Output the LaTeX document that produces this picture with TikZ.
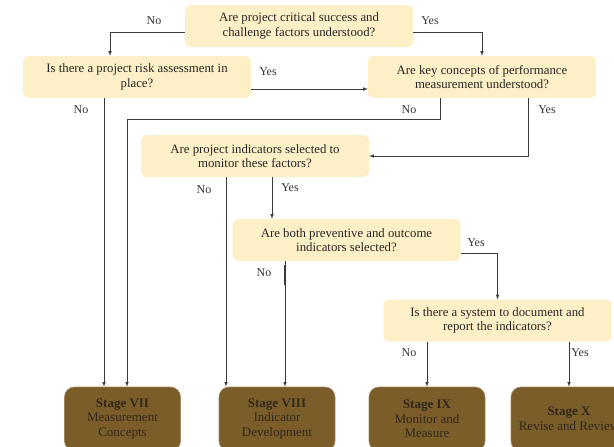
\documentclass[tikz,border=0pt]{standalone}
\usepackage{fontspec}
\setmainfont{Liberation Serif}
\usepackage{tikz}
\usetikzlibrary{arrows}
\definecolor{qfill}{HTML}{FDEFC6}
\definecolor{stagefill}{HTML}{7A5D29}
\definecolor{stageedge}{HTML}{A08A5C}
\definecolor{stagetext}{HTML}{33271A}
\definecolor{linecol}{HTML}{3A3A3A}

\begin{document}
\begin{tikzpicture}[x=1pt,y=-1pt,
			question/.style={rectangle,rounded corners=6pt,fill=qfill,
				minimum width=228pt,minimum height=42pt,align=center,text=black!85,
				font=\fontsize{12.8}{14.5}\selectfont,inner sep=2pt},
			stage node/.style={rectangle,rounded corners=10pt,fill=stagefill,
				draw=stageedge,line width=0.6pt,minimum width=116pt,minimum height=64pt,
				align=center,text=stagetext,font=\fontsize{13}{14.5}\selectfont},
			answer/.style={font=\fontsize{12}{13}\selectfont,text=black!80,inner sep=1pt},
			arr/.style={-latex,draw=linecol,line width=0.6pt}]
			
			\useasboundingbox (0,0) rectangle (614,447);
			
			\node[question] (top) at (299,26) {Are project critical success and\\challenge factors understood?};
			\node[question] (risk) at (137,77) {Is there a project risk assessment in\\place?};
			\node[question] (key) at (482,77) {Are key concepts of performance\\measurement understood?};
			\node[question] (ind) at (255,156) {Are project indicators selected to\\monitor these factors?};
			\node[question] (prev) at (346.5,240) {Are both preventive and outcome\\indicators selected?};
			\node[question] (sys) at (497.5,320.5) {Is there a system to document and\\report the indicators?};
			
			\node[stage node] (s7) at (122.5,419) {\textbf{Stage VII}\\Measurement\\Concepts};
			\node[stage node] (s8) at (277,419) {\textbf{Stage VIII}\\Indicator\\Development};
			\node[stage node] (s9) at (427,419) {\textbf{Stage IX}\\Monitor and\\Measure};
			\node[stage node] (s10) at (569,419) {\textbf{Stage X}\\Revise and Review};
			
			\coordinate (k1) at (127,119);
			
			\draw[arr] ([yshift=-6pt]top.west) -| ([xshift=-27pt]risk.north);
			\draw[arr] ([yshift=-6pt]top.east) -| (key.north);
			\draw[arr] ([yshift=-12pt]risk.east) -- ([yshift=-12pt]key.west);
			\draw[arr] ([xshift=-33pt]risk.south) -- ([xshift=-33pt]risk.south |- s7.north);
			\draw[arr] ([xshift=-42pt]key.south) |- (k1) -- (k1 |- s7.north);
			\draw[arr] ([xshift=46.5pt]key.south) |- (ind.east);
			\draw[arr] ([xshift=-29pt]ind.south) -- ([xshift=-29pt]ind.south |- s8.north);
			\draw[arr] ([xshift=17pt]ind.south) -- ([xshift=17pt]ind.south |- prev.north);
			\draw[arr] ([yshift=-13pt]prev.east) -| (sys.north);
			\draw[arr] ([xshift=-61.5pt]prev.south) -- ([xshift=-61.5pt]prev.south |- s8.north);
			\draw[linecol,line width=1.5pt] ([xshift=-61.5pt,yshift=-4pt]prev.south) -- ([xshift=-61.5pt,yshift=-24pt]prev.south);
			\draw[arr] (s9.north |- sys.south) -- (s9.north);
			\draw[arr] (s10.north |- sys.south) -- (s10.north);
			
			\node[answer] (n1) at (154,21) {No};
			\node[answer] (y1) at (430,21) {Yes};
			\node[answer] (y2) at (268,72) {Yes};
			\node[answer] (n2) at (81,110) {No};
			\node[answer] (n3) at (409,110) {No};
			\node[answer] (y3) at (547,110) {Yes};
			\node[answer] (n4) at (204,190) {No};
			\node[answer] (y4) at (290,188) {Yes};
			\node[answer] (y5) at (476,243) {Yes};
			\node[answer] (n5) at (264,273) {No};
			\node[answer] (n6) at (409,353) {No};
			\node[answer] (y6) at (580,353) {Yes};
		\end{tikzpicture}
\end{document}
